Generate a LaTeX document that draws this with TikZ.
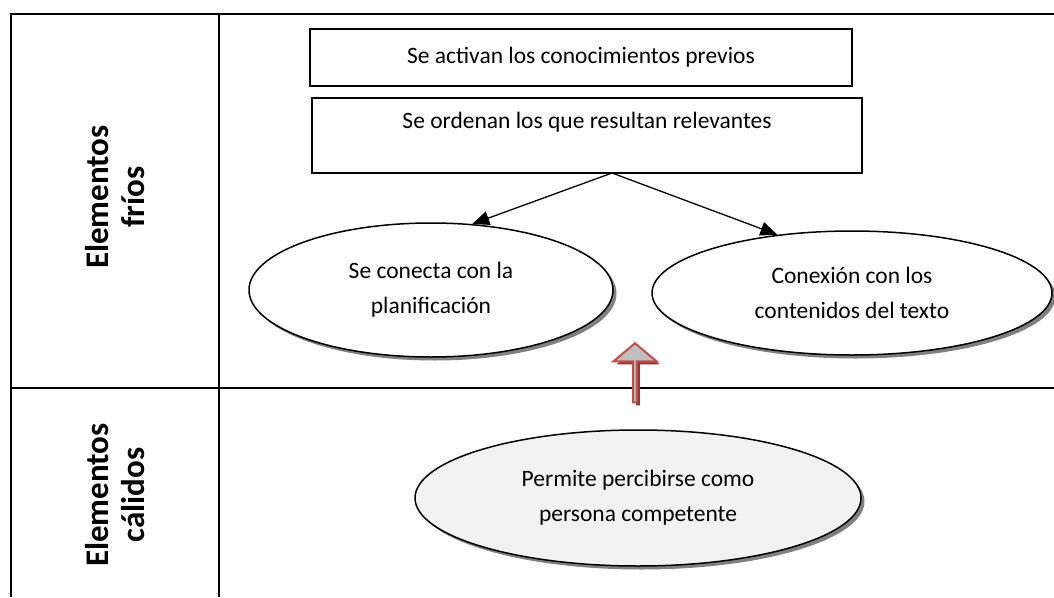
\documentclass[tikz,border=0pt]{standalone}
\usepackage{fontspec}
\setmainfont{Carlito}
\usetikzlibrary{arrows.meta,shapes.geometric,shapes.arrows,shadows}

\definecolor{liftred}{HTML}{C0504D}
\definecolor{liftshade}{HTML}{943634}
\definecolor{liftfill}{HTML}{BFBFBF}
\definecolor{warmfill}{HTML}{F2F2F2}

\begin{document}
\begin{tikzpicture}[x=1pt,y=-1pt,>={Triangle[length=17pt,width=14pt]}]
    \tikzstyle{every node}=[font=\fontsize{23.5}{35}\selectfont]
    \tikzstyle{textbox}=[draw,line width=1.2pt,inner sep=0pt]
    \tikzstyle{bubble}=[ellipse,draw,line width=1.5pt,fill=white,inner sep=0pt,align=center,
        drop shadow={shadow xshift=3.5pt,shadow yshift=-3.5pt,fill=black!50,opacity=1}]
    \tikzstyle{rowlabel}=[rotate=90,align=center,font=\fontsize{33}{36}\selectfont\bfseries]
    \useasboundingbox (0,0) rectangle (1054,597);

    % table frame
    \draw[line width=2pt] (1054,14) -- (11,14) -- (11,597);
    \draw[line width=2pt] (219,14) -- (219,597);
    \draw[line width=2pt] (11,388) -- (1054,388);

    \node[rowlabel] (frios) at (115,197) {Elementos\\fríos};
    \node[rowlabel] (calidos) at (115,495) {Elementos\\cálidos};

    % cold elements
    \node[textbox,minimum width=542pt,minimum height=57pt] (activan) at (581,57.5)
        {Se activan los conocimientos previos};
    \node[textbox,minimum width=550pt,inner ysep=7pt,text height=23pt,text depth=38pt] (ordenan)
        at (587,135.5) {Se ordenan los que resultan relevantes};
    \coordinate (split) at (612,173);

    \node[bubble,minimum width=364pt,minimum height=134pt] (conecta) at (431,290)
        {Se conecta con la\\planificación};
    \node[bubble,minimum width=400pt,minimum height=124pt] (contenidos) at (852,293)
        {Conexión con los\\contenidos del texto};

    \path[->,line width=1.3pt] (split) edge (conecta.58)
                              (split) edge (contenidos.142);

    % warm elements
    \node[bubble,fill=warmfill,minimum width=446pt,minimum height=136pt] (competente) at (638,498)
        {Permite percibirse como\\persona competente};

    \node[single arrow,shape border rotate=90,draw=liftred,fill=liftfill,line width=2pt,
        minimum width=43pt,minimum height=59pt,single arrow head extend=11pt,
        single arrow tip angle=100,inner sep=0pt,
        drop shadow={shadow xshift=3pt,shadow yshift=-3pt,fill=liftshade,opacity=1}]
        (lift) at (635,373.5) {};
\end{tikzpicture}
\end{document}
